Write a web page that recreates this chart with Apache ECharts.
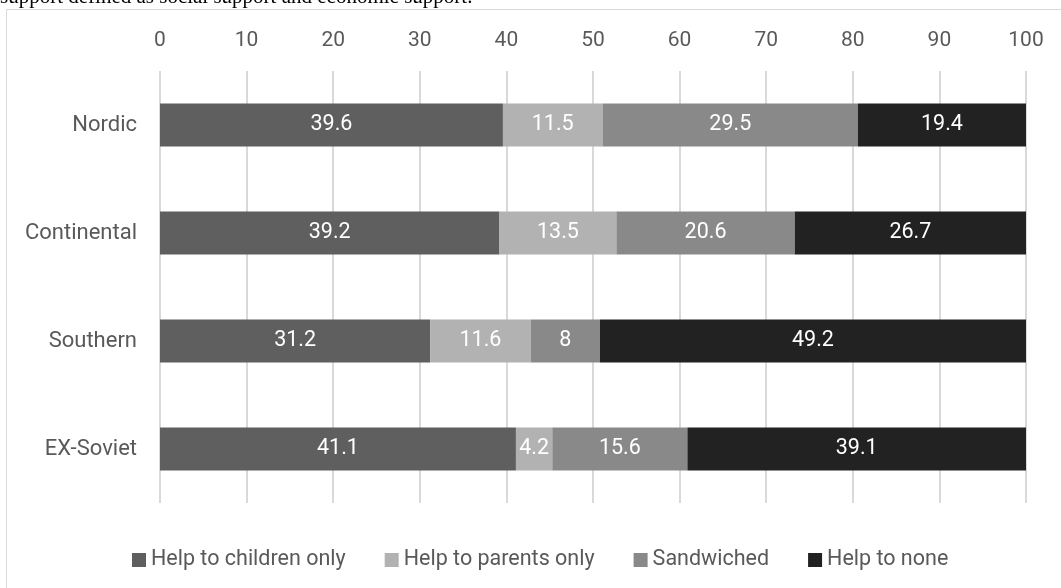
<!DOCTYPE html>
<html>
<head>
<meta charset="utf-8">
<script src="https://cdn.jsdelivr.net/npm/echarts@6/dist/echarts.min.js"></script>
<style>
  html, body { margin: 0; padding: 0; background: #fff; }
  #main { width: 1061px; height: 588px; }
</style>
</head>
<body>
<div id="main"></div>
<script>
// 数据
var regions = ['Nordic', 'Continental', 'Southern', 'EX-Soviet'];
var childrenOnly = [39.6, 39.2, 31.2, 41.1];
var parentsOnly = [11.5, 13.5, 11.6, 4.2];
var sandwiched = [29.5, 20.6, 8, 15.6];
var helpNone = [19.4, 26.7, 49.2, 39.1];
var seriesNames = ['Help to children only', 'Help to parents only', 'Sandwiched', 'Help to none'];
var colors = ['#5f5f5f', '#b2b2b2', '#898989', '#222222'];

var font = 'Roboto, sans-serif';

function makeSeries(name, data, color) {
    return {
        name: name,
        type: 'bar',
        stack: 'total',
        data: data,
        barWidth: 43,
        itemStyle: { color: color },
        label: {
            show: true,
            position: 'inside',
            color: '#ffffff',
            fontFamily: font,
            fontSize: 21.5
        }
    }
}

var chart = echarts.init(document.getElementById('main'))
var option = {
    animation: false,
    backgroundColor: '#ffffff',
    graphic: [
        {
            type: 'rect',
            shape: { x: 6.5, y: 9.5, width: 1100, height: 600 },
            style: { fill: 'none', stroke: '#d9d9d9', lineWidth: 1 }
        },
        {
            type: 'text',
            left: 0,
            top: -13,
            style: {
                text: 'support defined as social support and economic support.',
                font: '21px "Liberation Serif", serif',
                fill: '#000000'
            }
        }
    ],
    grid: { left: 160, right: 35, top: 71, height: 432 },
    legend: {
        data: seriesNames,
        left: 127,
        top: 544,
        icon: 'rect',
        itemWidth: 14,
        itemHeight: 14,
        itemGap: 39,
        textStyle: { color: '#595959', fontFamily: font, fontSize: 21.5 }
    },
    xAxis: {
        type: 'value',
        position: 'top',
        min: 0,
        max: 100,
        interval: 10,
        axisLine: { show: false },
        axisTick: { show: false },
        axisLabel: { color: '#595959', fontFamily: font, fontSize: 21, margin: 20 },
        splitLine: { lineStyle: { color: '#d9d9d9', width: 2 } }
    },
    yAxis: {
        type: 'category',
        inverse: true,
        data: regions,
        axisLine: { show: false },
        axisTick: { show: false },
        axisLabel: { color: '#595959', fontFamily: font, fontSize: 22, margin: 23 }
    },
    series: [
        makeSeries(seriesNames[0], childrenOnly, colors[0]),
        makeSeries(seriesNames[1], parentsOnly, colors[1]),
        makeSeries(seriesNames[2], sandwiched, colors[2]),
        makeSeries(seriesNames[3], helpNone, colors[3])
    ]
}
chart.setOption(option)
</script>
</body>
</html>
